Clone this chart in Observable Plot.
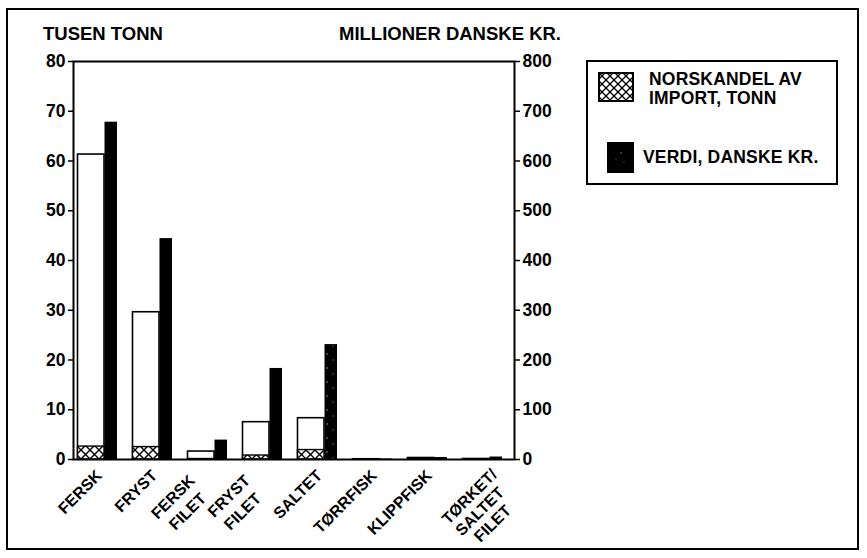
<!DOCTYPE html>
<html>
<head>
<meta charset="utf-8">
<script src="https://cdn.jsdelivr.net/npm/d3@7"></script>
<script src="https://cdn.jsdelivr.net/npm/@observablehq/plot@0.6"></script>
<style>
  html, body { margin: 0; padding: 0; background: #fff; }
  #wrap { position: relative; width: 867px; height: 558px; font-family: "Liberation Sans", Arial, sans-serif; font-weight: bold; color: #000; }
  #wrap svg.chart { position: absolute; left: 0; top: 0; }
  .abs { position: absolute; white-space: nowrap; }
  #border { position: absolute; left: 6px; top: 8px; width: 849px; height: 538px; border: 2px solid #000; pointer-events: none; }
  .title { font-size: 18.5px; letter-spacing: 0px; line-height: 1; }
  #legend { position: absolute; left: 586px; top: 60px; width: 248px; height: 121px; border: 2px solid #000; }
  .leg { font-size: 17.5px; line-height: 19px; letter-spacing: 0.2px; }
</style>
</head>
<body>
<div id="wrap">
  <div id="border"></div>
  <div class="abs title" style="left:43px; top:25px;">TUSEN TONN</div>
  <div class="abs title" style="left:339px; top:25px;">MILLIONER DANSKE KR.</div>
  <div id="legend">
    <svg class="abs" style="left:10px; top:10px;" width="36" height="30">
      <defs>
        <pattern id="hatchLeg" patternUnits="userSpaceOnUse" width="8" height="8">
          <rect width="8" height="8" fill="#fff"></rect>
          <path d="M0,0L8,8M8,0L0,8" stroke="#000" stroke-width="1.3"></path>
        </pattern>
      </defs>
      <rect x="1" y="1" width="34" height="28" fill="url(#hatchLeg)" stroke="#000" stroke-width="2"></rect>
    </svg>
    <div class="abs leg" style="left:61px; top:8px;">NORSKANDEL AV<br>IMPORT, TONN</div>
    <svg class="abs" style="left:19px; top:80px;" width="27" height="31">
      <rect x="0" y="0" width="27" height="31" fill="#000"></rect>
      <circle cx="14" cy="11" r="0.7" fill="#fff" opacity="0.6"></circle>
      <circle cx="9" cy="17" r="0.6" fill="#fff" opacity="0.5"></circle>
      <circle cx="17" cy="20" r="0.6" fill="#fff" opacity="0.5"></circle>
    </svg>
    <div class="abs leg" style="left:55px; top:86px;">VERDI, DANSKE KR.</div>
  </div>
</div>
<script>
// ---- data ----
const categories = ["FERSK", "FRYST", "FERSK\nFILET", "FRYST\nFILET", "SALTET", "TØRRFISK", "KLIPPFISK", "TØRKET/\nSALTET\nFILET"];
const importTusenTonn = [61.3, 29.6, 1.6, 7.5, 8.3, 0.05, 0.3, 0.1];   // total import, 1000 tonn (white bars)
const norskTusenTonn  = [2.6, 2.5, 0.1, 0.8, 1.9, 0, 0.05, 0];        // Norwegian share, 1000 tonn (hatched)
const verdiMillKr     = [678, 444, 39, 183, 231, 1, 4, 5];            // value, mill. DKK (black bars)
const stippled        = ["SALTET"];
const leftTicks  = [0, 10, 20, 30, 40, 50, 60, 70, 80];
const rightTicks = [0, 100, 200, 300, 400, 500, 600, 700, 800];

const rows = categories.map((c, i) => ({cat: c, tonn: importTusenTonn[i], norsk: norskTusenTonn[i], verdi: verdiMillKr[i]}));

// label lines
const labelLines = [];
categories.forEach(c => {
  const parts = c.split("\n");
  parts.forEach((t, i) => labelLines.push({cat: c, text: t, i, n: parts.length}));
});
function labelOffset(n, i) {
  if (n === 1) return [-7, 9];
  if (n === 2) return [-24 + 11 * i, 14 + 18 * i];
  return [3 + 7 * i, 8 + 18 * i];
}
const labelMarks = [];
for (const n of [1, 2, 3]) {
  for (let i = 0; i < n; i++) {
    const [dx, dy] = labelOffset(n, i);
    labelMarks.push(Plot.text(labelLines.filter(d => d.n === n && d.i === i), {
      x: "cat", y: 0, text: "text", rotate: -45, textAnchor: "end", lineAnchor: "top",
      dx, dy, fontSize: 16, fontWeight: "bold", fill: "#000"
    }));
  }
}

const chart = Plot.plot({
  width: 867,
  height: 558,
  marginLeft: 73,
  marginRight: 353,
  marginTop: 61,
  marginBottom: 99,
  x: {domain: categories, padding: 0, axis: null},
  y: {domain: [0, 80], axis: null},
  style: {fontFamily: "'Liberation Sans', Arial, sans-serif", fontWeight: "bold", background: "transparent", color: "#000", overflow: "visible"},
  marks: [
    Plot.barY(rows, {x: "cat", y: "tonn", fill: "#fff", stroke: "#000", strokeWidth: 1.6, insetLeft: 3.5, insetRight: 25}),
    Plot.barY(rows, {x: "cat", y: "norsk", fill: "url(#hatch)", stroke: "#000", strokeWidth: 1.4, insetLeft: 3.5, insetRight: 25}),
    Plot.barY(rows.filter(d => !stippled.includes(d.cat)), {x: "cat", y: d => d.verdi / 10, fill: "#000", insetLeft: 30.5, insetRight: 12}),
    Plot.barY(rows.filter(d => stippled.includes(d.cat)), {x: "cat", y: d => d.verdi / 10, fill: "url(#stipple)", insetLeft: 30.5, insetRight: 12}),
    Plot.axisY(leftTicks, {anchor: "left", tickSize: 5, tickPadding: 3, strokeWidth: 1.5, fontSize: 17.5, fontWeight: "bold", label: null}),
    Plot.axisY(rightTicks.map(v => v / 10), {anchor: "right", tickSize: 5, tickPadding: 3, strokeWidth: 1.5, fontSize: 17.5, fontWeight: "bold", tickFormat: d => String(Math.round(d * 10)), label: null}),
    Plot.frame({stroke: "#000", strokeWidth: 2}),
    ...labelMarks
  ]
});
chart.classList.add("chart");

const svg = d3.select(chart);
const defs = svg.insert("defs", ":first-child");
const hatch = defs.append("pattern").attr("id", "hatch").attr("patternUnits", "userSpaceOnUse").attr("width", 9).attr("height", 9);
hatch.append("rect").attr("width", 9).attr("height", 9).attr("fill", "#fff");
hatch.append("path").attr("d", "M0,0L9,9M9,0L0,9").attr("stroke", "#000").attr("stroke-width", 1.4);
const stip = defs.append("pattern").attr("id", "stipple").attr("patternUnits", "userSpaceOnUse").attr("width", 12).attr("height", 14);
stip.append("rect").attr("width", 12).attr("height", 14).attr("fill", "#000");
stip.append("circle").attr("cx", 3).attr("cy", 4).attr("r", 0.8).attr("fill", "#fff").attr("opacity", 0.6);
stip.append("circle").attr("cx", 9).attr("cy", 10).attr("r", 0.7).attr("fill", "#fff").attr("opacity", 0.5);

document.getElementById("wrap").insertBefore(chart, document.getElementById("border"));
</script>
</body>
</html>
